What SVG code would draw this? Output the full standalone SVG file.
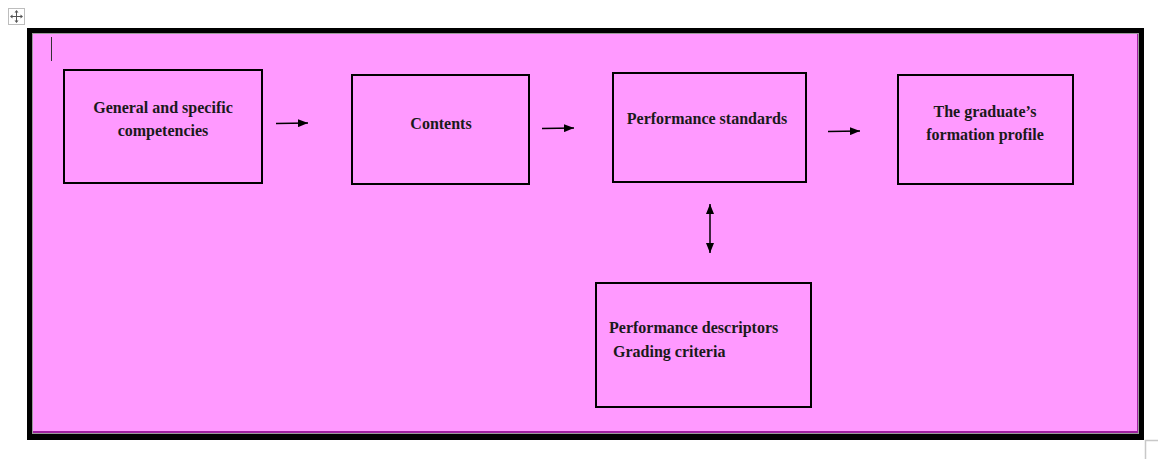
<svg xmlns="http://www.w3.org/2000/svg" width="1158" height="459" viewBox="0 0 1158 459">
<style>
.box{fill:none;stroke:#000;stroke-width:2}
.t{font-family:"Liberation Serif","Times New Roman",serif;font-weight:bold;font-size:16px;fill:#1a1a1a}
.c{text-anchor:middle}
.conn{stroke:#000;stroke-width:1.5;fill:none}
</style>
<defs>
<marker id="ah" markerWidth="10" markerHeight="8" refX="10" refY="4" orient="auto-start-reverse" markerUnits="userSpaceOnUse">
<path d="M0,0 L10,4 L0,8 Z" fill="#000"/>
</marker>
</defs>
<rect width="1158" height="459" fill="#fff"/>
<g id="handle">
<rect x="8.5" y="8.5" width="16" height="16" fill="#fff" stroke="#bdbdbd"/>
<path d="M16.5,11 V22 M11,16.5 H22" stroke="#555" stroke-width="1"/>
<path d="M16.5,10 l-2,2.5 h4 Z M16.5,23 l-2,-2.5 h4 Z M10,16.5 l2.5,-2 v4 Z M23,16.5 l-2.5,-2 v4 Z" fill="#555"/>
</g>
<g id="frame">
<rect x="27" y="28" width="1117" height="412" fill="#000"/>
<rect x="32" y="33" width="1107" height="401" fill="#9a9a9a"/>
<rect x="33" y="34" width="1105" height="399" fill="#a020a0"/>
<rect x="33" y="34" width="1104" height="397" fill="#ff99ff"/>
<line x1="51.5" y1="37" x2="51.5" y2="61" stroke="#333" stroke-width="1"/>
<path d="M1145,440.5 H1158 M1145.5,440 V459" stroke="#c8c8c8" stroke-width="1.5"/>
</g>
<g id="n1">
<rect class="box" x="64" y="70" width="198" height="113"/>
<text class="t c" x="163" y="113">General and specific</text>
<text class="t c" x="163" y="136">competencies</text>
</g>
<g id="n2">
<rect class="box" x="352" y="75" width="177" height="109"/>
<text class="t c" x="441" y="129">Contents</text>
</g>
<g id="n3">
<rect class="box" x="613" y="73" width="193" height="109"/>
<text class="t c" x="707" y="124">Performance standards</text>
</g>
<g id="n4">
<rect class="box" x="898" y="75" width="175" height="109"/>
<text class="t c" x="985" y="117">The graduate’s</text>
<text class="t c" x="985" y="140">formation profile</text>
</g>
<g id="n5">
<rect class="box" x="596" y="283" width="215" height="124"/>
<text class="t" x="609" y="333">Performance descriptors</text>
<text class="t" x="613" y="357">Grading criteria</text>
</g>
<g id="connectors">
<line class="conn" x1="276" y1="123.5" x2="308" y2="123" marker-end="url(#ah)"/>
<line class="conn" x1="542" y1="128.5" x2="574" y2="128" marker-end="url(#ah)"/>
<line class="conn" x1="828" y1="131.5" x2="860" y2="131" marker-end="url(#ah)"/>
<line class="conn" x1="710" y1="204" x2="710" y2="253" marker-start="url(#ah)" marker-end="url(#ah)"/>
</g>
</svg>
